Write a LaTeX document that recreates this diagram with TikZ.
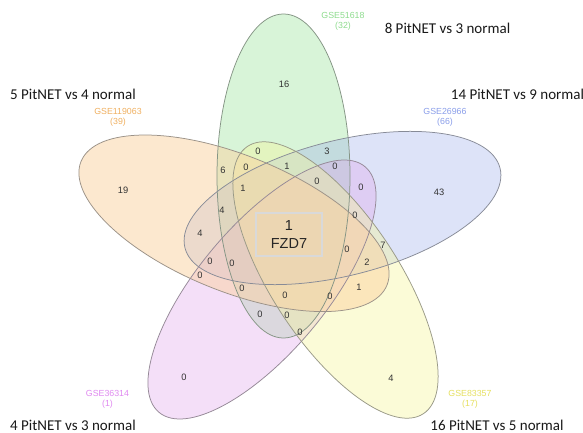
\documentclass[tikz,border=0pt]{standalone}
\usepackage{fontspec}
\setmainfont{Liberation Sans}
\newfontfamily\calib{Carlito}
\definecolor{vgreen}{HTML}{92E292}
\definecolor{vblue}{HTML}{9EAFEB}
\definecolor{vorange}{HTML}{FBD3A1}
\definecolor{vpurple}{HTML}{E2A6EB}
\definecolor{vyellow}{HTML}{F5F59B}
\definecolor{tgreen}{HTML}{8EDC8E}
\definecolor{tblue}{HTML}{8A9EEA}
\definecolor{torange}{HTML}{F0B060}
\definecolor{tpurple}{HTML}{E08AF0}
\definecolor{tyellow}{HTML}{E6E060}
\begin{document}
\begin{tikzpicture}[x=1pt,y=-1pt,
  vline/.style={line width=0.75pt},
  cnt/.style={font=\fontsize{9.3}{11}\selectfont, text=black!80, inner sep=0pt},
  gse/.style={font=\fontsize{8.8}{10}\selectfont, align=center, inner sep=0pt},
  grp/.style={font=\calib\fontsize{15}{17}\selectfont, text=black!90, inner sep=0pt}]
\useasboundingbox (0,0) rectangle (583,433);
\fill[white] (0,0) rectangle (583,433);
% fills
\fill[vgreen,fill opacity=0.35,rotate around={90:(283.5,176)}] (283.5,176) ellipse [x radius=162, y radius=66.5];
\fill[vblue,fill opacity=0.35,rotate around={14.2:(342.5,208)}] (342.5,208) ellipse [x radius=162.5, y radius=67.5];
\fill[vpurple,fill opacity=0.35,rotate around={50:(262,289.5)}] (262,289.5) ellipse [x radius=160.3, y radius=63.8];
\fill[vyellow,fill opacity=0.4,rotate around={-56.7:(335.5,280)}] (335.5,280) ellipse [x radius=160, y radius=63.5];
\fill[vorange,fill opacity=0.5,rotate around={-22:(234,223.3)}] (234,223.3) ellipse [x radius=165, y radius=68];
% outlines
\draw[vline,draw=vgreen!35!black!60,rotate around={90:(283.5,176)}] (283.5,176) ellipse [x radius=162, y radius=66.5];
\draw[vline,draw=vblue!35!black!60,rotate around={14.2:(342.5,208)}] (342.5,208) ellipse [x radius=162.5, y radius=67.5];
\draw[vline,draw=vpurple!35!black!60,rotate around={50:(262,289.5)}] (262,289.5) ellipse [x radius=160.3, y radius=63.8];
\draw[vline,draw=vyellow!35!black!60,rotate around={-56.7:(335.5,280)}] (335.5,280) ellipse [x radius=160, y radius=63.5];
\draw[vline,draw=vorange!35!black!60,rotate around={-22:(234,223.3)}] (234,223.3) ellipse [x radius=165, y radius=68];
% group titles
\node[grp] (g1) at (447.5,28.5) {8 PitNET vs 3 normal};
\node[grp] (g2) at (73,94.5) {5 PitNET vs 4 normal};
\node[grp] (g3) at (517.5,94.5) {14 PitNET vs 9 normal};
\node[grp] (g4) at (73,425.5) {4 PitNET vs 3 normal};
\node[grp] (g5) at (497,425.5) {16 PitNET vs 5 normal};
% dataset labels
\node[gse,text=tgreen] (s1) at (343,21) {GSE51618\\(32)};
\node[gse,text=torange] (s2) at (118,117) {GSE119063\\(39)};
\node[gse,text=tblue] (s3) at (445,117) {GSE26966\\(66)};
\node[gse,text=tpurple] (s4) at (107.5,399) {GSE36314\\(1)};
\node[gse,text=tyellow] (s5) at (470,399) {GSE83357\\(17)};
% central box
\node[draw=white!85!black, line width=1.1pt, minimum width=66pt, minimum height=43pt,
      align=center, font=\fontsize{14.5}{18}\selectfont, text=black!85] (core) at (289,234.5) {1\\FZD7};
% region counts
\node[cnt] (r1) at (284,84) {16};
\node[cnt] (r2) at (123,190) {19};
\node[cnt] (r3) at (439,192) {43};
\node[cnt] (r4) at (184,377) {0};
\node[cnt] (r5) at (391,378) {4};
\node[cnt] (r6) at (258,151) {0};
\node[cnt] (r7) at (223,170) {6};
\node[cnt] (r8) at (246,167) {0};
\node[cnt] (r9) at (287,166) {1};
\node[cnt] (r10) at (243,188) {1};
\node[cnt] (r11) at (222,210) {4};
\node[cnt] (r12) at (327,151) {3};
\node[cnt] (r13) at (335,166) {0};
\node[cnt] (r14) at (317,181) {0};
\node[cnt] (r15) at (361,187) {0};
\node[cnt] (r16) at (355,215) {0};
\node[cnt] (r17) at (200,233) {4};
\node[cnt] (r18) at (347,249) {0};
\node[cnt] (r19) at (383,245) {7};
\node[cnt] (r20) at (210,261) {0};
\node[cnt] (r21) at (232,263) {0};
\node[cnt] (r22) at (367,262) {2};
\node[cnt] (r23) at (200,275) {0};
\node[cnt] (r24) at (242,288) {0};
\node[cnt] (r25) at (285,295) {0};
\node[cnt] (r26) at (330,296) {0};
\node[cnt] (r27) at (359,287) {1};
\node[cnt] (r28) at (260,314) {0};
\node[cnt] (r29) at (287,315) {0};
\node[cnt] (r30) at (300,332) {0};
\end{tikzpicture}
\end{document}
